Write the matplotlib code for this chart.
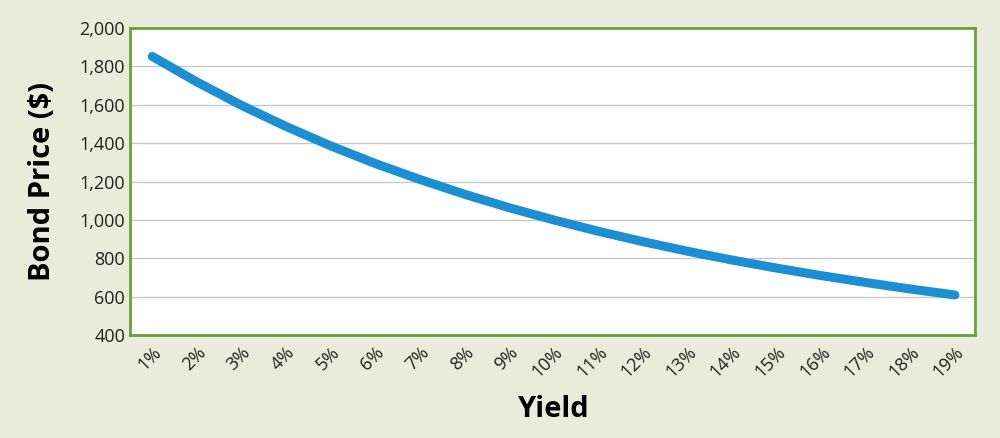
import matplotlib
matplotlib.use("Agg")
import matplotlib.pyplot as plt
from matplotlib.ticker import FuncFormatter

plt.rcParams['font.family'] = ['Open Sans', 'DejaVu Sans']

# yield (%) and bond price ($)
yields = list(range(1, 20))
prices = [1852, 1719, 1597, 1487, 1386, 1294, 1211, 1134, 1064, 1000,
          941, 887, 837, 791, 749, 710, 674, 640, 609]
tick_labels = [f"{y}%" for y in yields]

bg = "#e9ebdb"
fig = plt.figure(figsize=(10, 4.38), dpi=100, facecolor=bg)
ax = fig.add_axes([0.13, 0.235, 0.845, 0.701])
ax.set_facecolor("white")

ax.plot(yields, prices, color="#1b8fd2", lw=6.5, solid_capstyle="round", zorder=3)

ax.set_xlim(0.5, 19.45)
ax.set_ylim(400, 2000)
ax.set_yticks(range(400, 2001, 200))
ax.yaxis.set_major_formatter(FuncFormatter(lambda v, p: f"{int(v):,}"))
ax.set_xticks(yields)
ax.set_xticklabels(tick_labels, rotation=45, ha="right", rotation_mode="anchor")
ax.grid(axis="y", color="#c8c8c8", lw=1)
ax.set_axisbelow(True)
ax.tick_params(length=0, labelsize=13, colors="#222222")
ax.tick_params(axis="x", pad=6)
for s in ax.spines.values():
    s.set_color("#6f9e35")
    s.set_linewidth(2)

ax.set_ylabel("Bond Price ($)", fontsize=21, fontweight="bold", labelpad=16)
ax.set_xlabel("Yield", fontsize=21, fontweight="bold", labelpad=10)

fig.savefig("out.png", dpi=100, facecolor=bg)
